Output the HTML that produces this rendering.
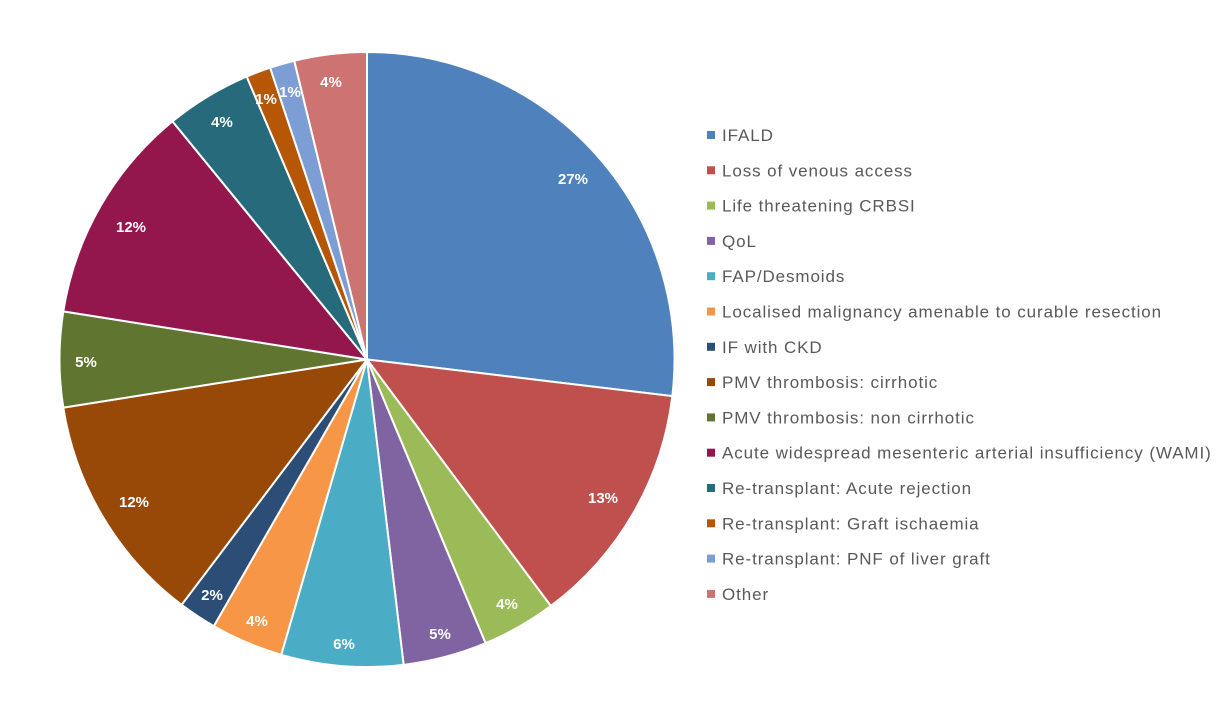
<!DOCTYPE html>
<html><head><meta charset="utf-8"><style>
body{margin:0;background:#fff;}
svg{display:block;}
.l{font-family:"Liberation Sans",sans-serif;font-size:15px;font-weight:bold;fill:#fff;text-anchor:middle;}
.g{font-family:"Liberation Sans",sans-serif;font-size:17px;fill:#595959;letter-spacing:0.9px;}
</style></head><body>
<svg id="s" width="1222" height="702" viewBox="0 0 1222 702">
<g id="pie"></g>
<g>
<text class="l" x="573" y="184">27%</text>
<text class="l" x="603" y="503">13%</text>
<text class="l" x="507" y="609">4%</text>
<text class="l" x="440" y="639">5%</text>
<text class="l" x="344" y="649">6%</text>
<text class="l" x="257" y="626">4%</text>
<text class="l" x="212" y="600">2%</text>
<text class="l" x="134" y="507">12%</text>
<text class="l" x="86" y="367">5%</text>
<text class="l" x="131" y="232">12%</text>
<text class="l" x="222" y="127">4%</text>
<text class="l" x="266" y="104">1%</text>
<text class="l" x="290" y="97">1%</text>
<text class="l" x="331" y="87">4%</text>
</g>
<g id="leg"></g>
</svg>
<script>
var cum=[0,26.9,39.8,43.7,48.1,54.5,58.3,60.3,72.5,77.5,89.1,93.6,94.9,96.2,100];
var cols=["#4F81BD","#C0504D","#9BBB59","#8064A2","#4BACC6","#F79646","#2C4D75","#984807","#5F7530","#93174D","#276A7C","#B65708","#7C9ED4","#CD7371"];
var cx=367,cy=359.5,r=307.5,ns="http://www.w3.org/2000/svg",pie=document.getElementById("pie"),leg=document.getElementById("leg");
function pt(p){var a=p/100*2*Math.PI;return [cx+r*Math.sin(a),cy-r*Math.cos(a)];}
for(var i=0;i<14;i++){
 var a=pt(cum[i]),b=pt(cum[i+1]),big=(cum[i+1]-cum[i])>50?1:0;
 var p=document.createElementNS(ns,"path");
 p.setAttribute("d","M"+cx+","+cy+"L"+a[0]+","+a[1]+"A"+r+","+r+" 0 "+big+" 1 "+b[0]+","+b[1]+"Z");
 p.setAttribute("fill",cols[i]);p.setAttribute("stroke","#fff");p.setAttribute("stroke-width","2");p.setAttribute("stroke-linejoin","round");
 pie.appendChild(p);
 var y=135+i*35.3;
 var q=document.createElementNS(ns,"rect");q.setAttribute("x",707);q.setAttribute("y",y-4);q.setAttribute("width",8);q.setAttribute("height",8);q.setAttribute("fill",cols[i]);leg.appendChild(q);
}
</script>
<svg style="position:absolute;left:0;top:0" width="1222" height="702">
<g>
<text class="g" x="722" y="141">IFALD</text>
<text class="g" x="722" y="176.3">Loss of venous access</text>
<text class="g" x="722" y="211.6">Life threatening CRBSI</text>
<text class="g" x="722" y="246.9">QoL</text>
<text class="g" x="722" y="282.2">FAP/Desmoids</text>
<text class="g" x="722" y="317.5">Localised malignancy amenable to curable resection</text>
<text class="g" x="722" y="352.8">IF with CKD</text>
<text class="g" x="722" y="388.1">PMV thrombosis: cirrhotic</text>
<text class="g" x="722" y="423.4">PMV thrombosis: non cirrhotic</text>
<text class="g" x="722" y="458.7">Acute widespread mesenteric arterial insufficiency (WAMI)</text>
<text class="g" x="722" y="494">Re-transplant: Acute rejection</text>
<text class="g" x="722" y="529.3">Re-transplant: Graft ischaemia</text>
<text class="g" x="722" y="564.6">Re-transplant: PNF of liver graft</text>
<text class="g" x="722" y="599.9">Other</text>
</g>
</svg>
</body></html>
